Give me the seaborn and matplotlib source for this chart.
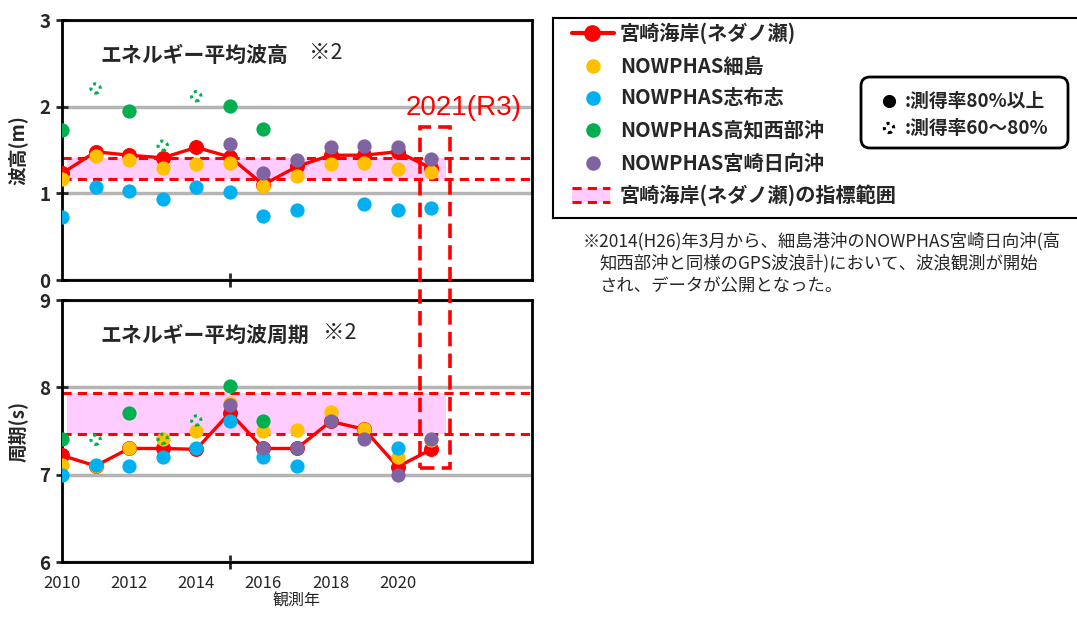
import numpy as np
import pandas as pd
import matplotlib
matplotlib.use('Agg')
import matplotlib.pyplot as plt
import seaborn as sns
from matplotlib.patches import Rectangle, FancyBboxPatch

sns.set_style('white')
plt.rcParams['font.family'] = ['Noto Sans CJK JP', 'DejaVu Sans']

nan = np.nan
years = list(range(2010, 2022))

# energy mean wave height (m)
neda_h = [1.23, 1.48, 1.44, 1.41, 1.53, 1.42, 1.10, 1.31, 1.44, 1.44, 1.48, 1.29]
hososhima_h = [1.17, 1.43, 1.38, 1.29, 1.34, 1.35, 1.08, 1.20, 1.34, 1.35, 1.28, 1.25]
shibushi_h = [0.73, 1.07, 1.03, 0.93, 1.07, 1.02, 0.74, 0.81, nan, 0.88, 0.81, 0.83]
kochi_h = [1.73, 2.21, 1.95, 1.55, 2.12, 2.01, 1.74, nan, nan, nan, nan, nan]
hyuga_h = [nan, nan, nan, nan, nan, 1.57, 1.24, 1.38, 1.54, 1.55, 1.54, 1.40]

# energy mean wave period (s)
neda_t = [7.22, 7.10, 7.30, 7.30, 7.29, 7.71, 7.30, 7.30, 7.61, 7.52, 7.09, 7.29]
hososhima_t = [7.11, 7.10, 7.30, 7.41, 7.50, 7.82, 7.50, 7.51, 7.72, 7.52, 7.20, 7.40]
shibushi_t = [7.00, 7.11, 7.10, 7.20, 7.30, 7.61, 7.20, 7.10, nan, nan, 7.30, nan]
kochi_t = [7.41, 7.40, 7.71, 7.41, 7.62, 8.01, 7.61, nan, nan, nan, nan, nan]
hyuga_t = [nan, nan, nan, nan, nan, 7.80, 7.30, 7.30, 7.61, 7.41, 7.00, 7.41]

# kochi observation rate: '80' = 80% or more, '60' = 60-80%
kochi_rate = ['80', '60', '80', '60', '60', '80', '80', '', '', '', '', '']

# index range of Neda (2021 target)
range_h = [1.16, 1.41]
range_t = [7.47, 7.94]

RED = '#ff0000'
ORANGE = '#ffc000'
BLUE = '#00b0f0'
GREEN = '#00b050'
PURPLE = '#8064a2'
PINK = '#ffccff'

fig = plt.figure(figsize=(10.77, 6.17), dpi=100)
ax1 = fig.add_axes([62/1077, 1-280/617, 470/1077, 260/617])
ax2 = fig.add_axes([62/1077, 1-562/617, 470/1077, 262/617])


def draw_panel(ax, neda, hoso, shib, kochi, hyuga, band, ylim, title, title_x2):
    df = pd.DataFrame({'year': years, 'neda': neda, 'hoso': hoso, 'shib': shib,
                       'kochi': kochi, 'hyuga': hyuga, 'rate': kochi_rate})
    ax.fill_between([2010.15, 2021.45], band[0], band[1], color=PINK, lw=0, zorder=1)
    for b in band:
        ax.axhline(b, color=RED, lw=2.2, ls=(0, (3, 2)), zorder=2)
    sns.lineplot(data=df, x='year', y='neda', ax=ax, color=RED, lw=2.4,
                 marker='o', markersize=10, markeredgecolor=RED, zorder=3)
    kw = dict(s=105, linewidth=0, legend=False, zorder=4)
    sns.scatterplot(data=df, x='year', y='hoso', ax=ax, color=ORANGE, **kw)
    sns.scatterplot(data=df, x='year', y='shib', ax=ax, color=BLUE, **kw)
    full = df[df['rate'] == '80']
    part = df[df['rate'] == '60']
    sns.scatterplot(data=full, x='year', y='kochi', ax=ax, color=GREEN, **kw)
    ax.scatter(part['year'], part['kochi'], s=45, facecolors='none', edgecolors=GREEN,
               linewidths=2.2, linestyles=(0, (1, 1.3)), zorder=4)
    sns.scatterplot(data=df, x='year', y='hyuga', ax=ax, color=PURPLE, **kw)

    ax.set_xlim(2010, 2024)
    ax.set_ylim(*ylim)
    ax.set_yticks(range(ylim[0], ylim[1] + 1))
    ax.grid(axis='y', color='#b4b4b4', lw=2.5, zorder=0)
    ax.set_axisbelow(True)
    for s in ax.spines.values():
        s.set_color('black')
        s.set_linewidth(2)
    ax.tick_params(axis='y', direction='inout', length=9, width=2, left=True,
                   labelsize=13.5, pad=4)
    for lab in ax.get_yticklabels():
        lab.set_fontweight('bold')
    ax.set_xticks([2015, 2020], minor=True)
    ax.tick_params(axis='x', which='minor', direction='inout', length=10, width=2, bottom=True)
    ax.set_xlabel('')
    ax.text(0.081, 0.865, title, transform=ax.transAxes, fontsize=15, fontweight='bold',
            va='center', ha='left')
    ax.text(title_x2, 0.875, '※2', transform=ax.transAxes, fontsize=15.5,
            va='center', ha='left')


draw_panel(ax1, neda_h, hososhima_h, shibushi_h, kochi_h, hyuga_h, range_h, (0, 3),
           'エネルギー平均波高', 0.525)
draw_panel(ax2, neda_t, hososhima_t, shibushi_t, kochi_t, hyuga_t, range_t, (6, 9),
           'エネルギー平均波周期', 0.556)

ax1.set_xticks(range(2010, 2021, 2))
ax1.tick_params(axis='x', which='major', length=0, labelbottom=False)
ax1.set_ylabel('波高(m)', fontsize=13.5, fontweight='bold', labelpad=8)
ax2.set_xticks(range(2010, 2021, 2))
ax2.tick_params(axis='x', which='major', length=0, labelsize=12, pad=9)
ax2.set_ylabel('周期(s)', fontsize=13.5, fontweight='bold', labelpad=8)
ax2.set_xlabel('観測年', fontsize=11.5, labelpad=1)

ax1.text(0.855, 0.66, '2021(R3)', transform=ax1.transAxes, color=RED, fontsize=20,
         family=['Liberation Sans', 'DejaVu Sans'], ha='center', va='center')

# dashed box around 2021 spanning both panels
inv = fig.transFigure.inverted()
x0, y0 = inv.transform(ax2.transData.transform((2020.65, 7.08)))
x1, y1 = inv.transform(ax1.transData.transform((2021.55, 1.76)))
fig.add_artist(Rectangle((x0, y0), x1 - x0, y1 - y0, transform=fig.transFigure,
                         fill=False, ec=RED, lw=2.6, ls=(0, (4, 2)), zorder=5))

# legend panel
ax3 = fig.add_axes([553/1077, 1-218/617, 540/1077, 200/617])
ax3.set_xlim(0, 540)
ax3.set_ylim(200, 0)
ax3.set_xticks([])
ax3.set_yticks([])
for s in ax3.spines.values():
    s.set_color('black')
    s.set_linewidth(1.5)

labels = ['宮崎海岸(ネダノ瀬)', 'NOWPHAS細島', 'NOWPHAS志布志', 'NOWPHAS高知西部沖',
          'NOWPHAS宮崎日向沖', '宮崎海岸(ネダノ瀬)の指標範囲']
rows = [15, 48, 80, 112, 145, 177]
ax3.plot([19, 61], [rows[0], rows[0]], color=RED, lw=3)
ax3.plot([39], [rows[0]], marker='o', color=RED, markersize=11)
for c, r in zip([ORANGE, BLUE, GREEN, PURPLE], rows[1:5]):
    ax3.scatter([40], [r], s=110, color=c, linewidths=0)
ax3.add_patch(Rectangle((19, rows[5] - 7), 38, 14, fc=PINK, lw=0))
for dy in (-7, 7):
    ax3.plot([19, 57], [rows[5] + dy, rows[5] + dy], color=RED, lw=2.2, ls=(0, (3, 2)))
for lab, r in zip(labels, rows):
    ax3.text(67, r, lab, fontsize=14.5, fontweight='bold', va='center', ha='left')

ax3.add_patch(FancyBboxPatch((308, 59), 207, 71, boxstyle='round,pad=0,rounding_size=9',
                             fc='white', ec='black', lw=2))
ax3.scatter([336], [83], s=90, color='black', linewidths=0)
ax3.scatter([336], [110], s=45, facecolors='none', edgecolors='black', linewidths=2.2,
            linestyles=(0, (1, 1.3)))
ax3.text(352, 83, ':測得率80%以上', fontsize=13.5, fontweight='bold', va='center')
ax3.text(352, 110, ':測得率60～80%', fontsize=13.5, fontweight='bold', va='center')

note = ['※2014(H26)年3月から、細島港沖のNOWPHAS宮崎日向沖(高',
        '知西部沖と同様のGPS波浪計)において、波浪観測が開始',
        'され、データが公開となった。']
note_x = [583, 599, 599]
for i, line in enumerate(note):
    fig.text(note_x[i]/1077, 1 - (241 + 22.5 * i)/617, line, fontsize=12.5,
             va='center', ha='left')

fig.savefig('out.png', dpi=100)
